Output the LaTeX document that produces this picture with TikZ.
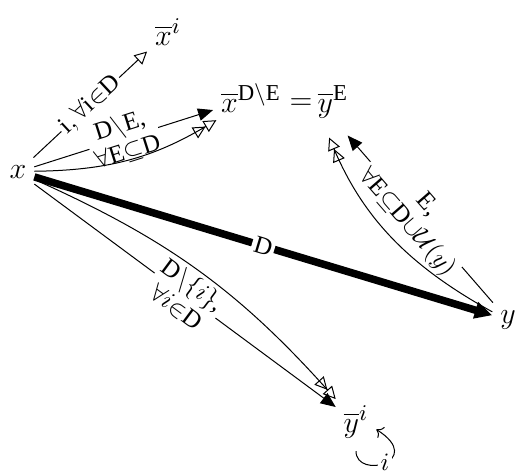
\documentclass[tikz,border=0pt]{standalone}
\usepackage{amsmath,amssymb}
\usepackage{fontspec}
\setmainfont{Liberation Serif}
\usetikzlibrary{arrows.meta}

\begin{document}
\begin{tikzpicture}[
    x=0.4pt, y=-0.4pt,
    varnode/.style={
        font=\fontsize{13}{15}\selectfont, inner sep=3pt
    },
    elabel/.style={
        fill=white, inner sep=1pt, font=\normalsize, align=center,
        sloped, midway
    },
    fullarrow/.style={
        -{Triangle[length=6pt, width=5pt]}, thin
    },
    openarrow/.style={
        -{Triangle[open, length=5pt, width=5pt]}, thin
    },
    twoarrow/.style={
        -{Triangle[open, length=5pt, width=5pt] Triangle[open, length=5pt, width=5pt]}, thin
    },
    heavyarrow/.style={
        -{Triangle[length=7pt, width=6.5pt]}, line width=3pt
    },
]
\useasboundingbox (0,0) rectangle (515,473);

% -- variables --
\node[varnode] (x) at (18,172) {$x$};
\node[varnode] (xi) at (168,32) {$\overline{x}^{i}$};
\node[varnode] (xde) at (251,98) {$\overline{x}^{\mathrm{D}{\setminus}\mathrm{E}}$};
\node[varnode] (eq) at (301,104) {$=$};
\node[varnode] (ye) at (333,102) {$\overline{y}^{\mathrm{E}}$};
\node[varnode] (y) at (508,320) {$y$};
\node[varnode] (yi) at (356,422) {$\overline{y}^{i}$};

% -- from x --
\draw[openarrow] (x) -- node[elabel] {$\mathrm{i},\forall\mathrm{i}{\in}\mathrm{D}$} (xi);
\draw[fullarrow] (x) -- node[elabel] {$\mathrm{D}{\setminus}\mathrm{E}$,\\[-1pt]$\forall\mathrm{E}{\subseteq}\mathrm{D}$} (xde);
\draw[twoarrow] (x) to[bend right=15] (xde);
\draw[heavyarrow] (x) -- node[elabel] {D} (y);
\draw[fullarrow] (x) -- node[elabel] {$\mathrm{D}{\setminus}\{i\}$,\\[-1pt]$\forall i{\in}\mathrm{D}$} (yi);
\draw[twoarrow] (x) to[bend left=12] (yi);

% -- from y --
\draw[fullarrow, shorten >=5pt] (y) -- node[elabel] {E,\\[-1pt]$\forall\mathrm{E}{\subseteq}\mathrm{D}{\cup}\mathcal{U}(y)$} (ye.-75);
\draw[twoarrow, shorten >=5pt] (y) to[bend left=19] (ye.-110);

% -- loop on y^i --
\draw[-{To}, thin, shorten <=2pt] (yi.south) .. controls +(0,34) and +(50,32) .. node[pos=0.5, fill=white, inner sep=1pt] {$i$} (yi.-20);

\end{tikzpicture}
\end{document}
